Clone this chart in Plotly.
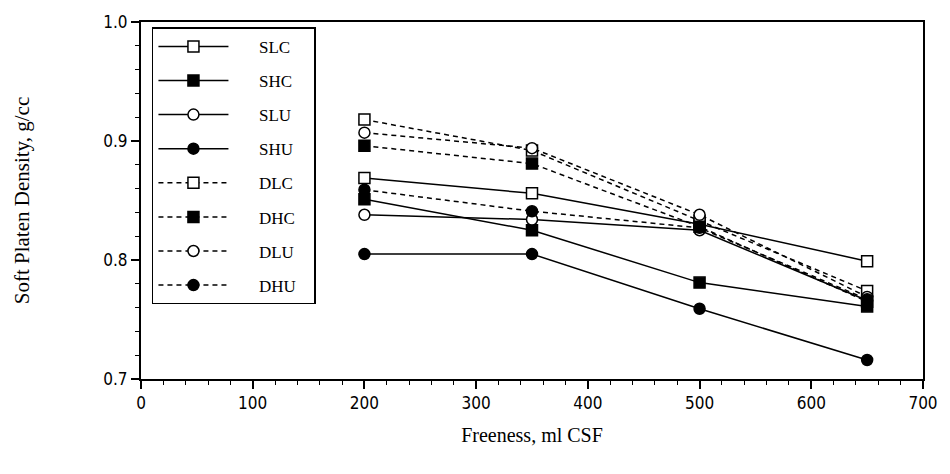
import plotly.graph_objects as go

freeness = [200, 350, 500, 650]
series_names = ["SLC", "SHC", "SLU", "SHU", "DLC", "DHC", "DLU", "DHU"]
SLC = [0.869, 0.856, 0.830, 0.799]
SHC = [0.851, 0.825, 0.781, 0.761]
SLU = [0.838, 0.834, 0.825, 0.766]
SHU = [0.805, 0.805, 0.759, 0.716]
DLC = [0.918, 0.892, 0.833, 0.774]
DHC = [0.896, 0.881, 0.828, 0.765]
DLU = [0.907, 0.894, 0.838, 0.769]
DHU = [0.859, 0.841, 0.827, 0.767]
values = [SLC, SHC, SLU, SHU, DLC, DHC, DLU, DHU]

styles = {
    "SLC": ("square", "white", "solid"),
    "SHC": ("square", "black", "solid"),
    "SLU": ("circle", "white", "solid"),
    "SHU": ("circle", "black", "solid"),
    "DLC": ("square", "white", "5px,4px"),
    "DHC": ("square", "black", "5px,4px"),
    "DLU": ("circle", "white", "5px,4px"),
    "DHU": ("circle", "black", "5px,4px"),
}

pad = "\u00a0" * 6

fig = go.Figure()
for name, vals in zip(series_names, values):
    sym, fill, dash = styles[name]
    fig.add_trace(go.Scatter(
        x=freeness, y=vals, name=pad + name + "\u00a0\u00a0\u00a0", mode="lines+markers",
        legendgroup=name,
        line=dict(color="black", width=1.5, dash=dash),
        marker=dict(symbol=sym, size=11, color=fill,
                    line=dict(color="black", width=1.5)),
    ))

tickfont = dict(family="DejaVu Sans Condensed, Liberation Sans Narrow, Arial Narrow, sans-serif",
                size=17, color="black")
serif = "Liberation Serif, Times New Roman, serif"

fig.update_layout(
    width=950, height=474,
    margin=dict(l=141, r=24, t=16, b=95),
    paper_bgcolor="white", plot_bgcolor="white",
    showlegend=True,
    legend=dict(
        x=0.014, y=0.985, xanchor="left", yanchor="top",
        bordercolor="black", borderwidth=1.5, bgcolor="white",
        font=dict(family=serif, size=17, color="black"),
        tracegroupgap=9, itemwidth=70,
    ),
    xaxis=dict(
        range=[0, 700], tickvals=[0, 100, 200, 300, 400, 500, 600, 700],
        showline=True, linecolor="black", linewidth=2, mirror=True,
        ticks="outside", ticklen=8, tickwidth=1.5, tickcolor="black",
        minor=dict(dtick=20, ticks="outside", ticklen=4, tickcolor="black", tickwidth=1),
        showgrid=False, zeroline=False, tickfont=tickfont,
        title=dict(text="Freeness, ml CSF", font=dict(family=serif, size=20, color="black"),
                   standoff=16),
    ),
    yaxis=dict(
        range=[0.7, 1.0], tickvals=[0.7, 0.8, 0.9, 1.0], tickformat=".1f",
        showline=True, linecolor="black", linewidth=2, mirror=True,
        ticks="outside", ticklen=8, tickwidth=1.5, tickcolor="black",
        minor=dict(dtick=0.02, ticks="outside", ticklen=4, tickcolor="black", tickwidth=1),
        showgrid=False, zeroline=False, tickfont=tickfont,
        title=dict(text="Soft Platen Density, g/cc", font=dict(family=serif, size=21, color="black"),
                   standoff=68),
    ),
)

fig.write_html("out.html")
